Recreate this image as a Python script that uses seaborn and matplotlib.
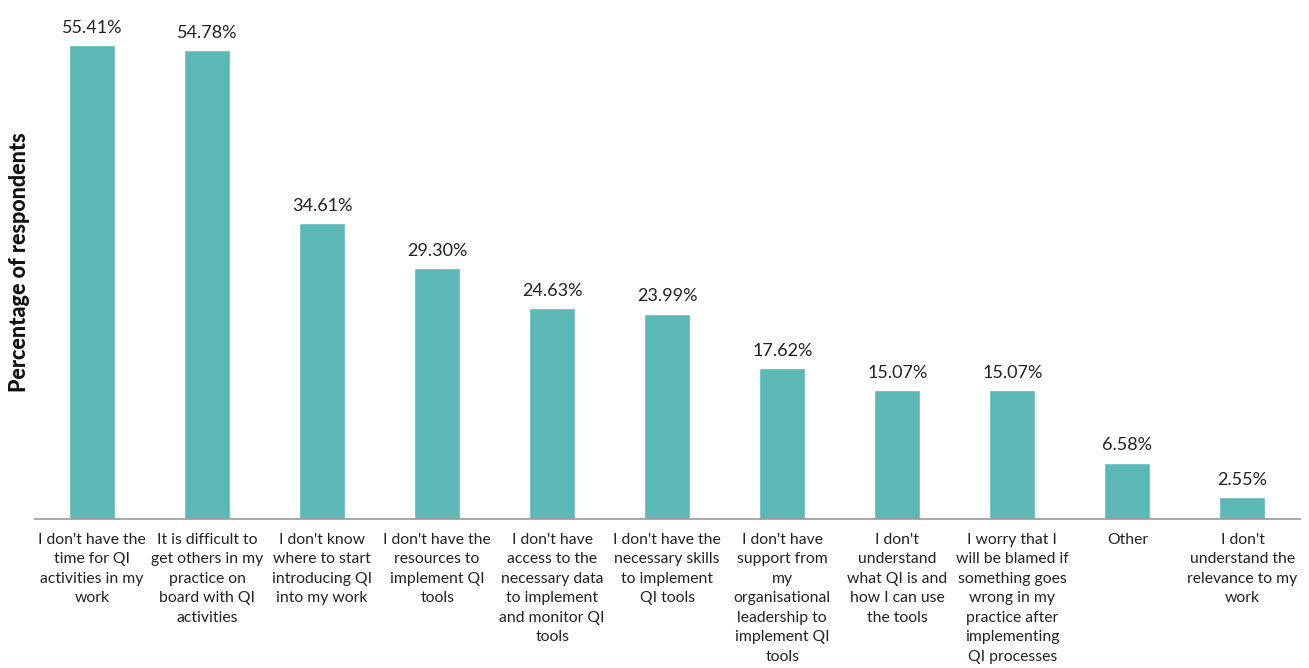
import matplotlib
matplotlib.use("Agg")
import matplotlib.pyplot as plt
import seaborn as sns
import pandas as pd

# Survey results: barriers to quality improvement (QI) activities
categories = [
    "I don't have the\ntime for QI\nactivities in my\nwork",
    "It is difficult to\nget others in my\npractice on\nboard with QI\nactivities",
    "I don't know\nwhere to start\nintroducing QI\ninto my work",
    "I don't have the\nresources to\nimplement QI\ntools",
    "I don't have\naccess to the\nnecessary data\nto implement\nand monitor QI\ntools",
    "I don't have the\nnecessary skills\nto implement\nQI tools",
    "I don't have\nsupport from\nmy\norganisational\nleadership to\nimplement QI\ntools",
    "I don't\nunderstand\nwhat QI is and\nhow I can use\nthe tools",
    "I worry that I\nwill be blamed if\nsomething goes\nwrong in my\npractice after\nimplementing\nQI processes",
    "Other",
    "I don't\nunderstand the\nrelevance to my\nwork",
]
percentages = [55.41, 54.78, 34.61, 29.30, 24.63, 23.99, 17.62, 15.07, 15.07, 6.58, 2.55]

df = pd.DataFrame({"category": categories, "pct": percentages})

sns.set_theme(style="white")
plt.rcParams["font.family"] = ["Lato", "DejaVu Sans"]

fig = plt.figure(figsize=(13.09, 6.68), dpi=100)
ax = fig.add_axes([34.5 / 1309, 1 - 519 / 668, (1300 - 34.5) / 1309, (519 - 10) / 668])

sns.barplot(data=df, x="category", y="pct", color="#5bb8b4", width=0.4,
            saturation=1, ax=ax)

ax.set_ylim(0, 59.5)
ax.set_xlim(-0.5, len(categories) - 0.5)

for i, v in enumerate(percentages):
    ax.text(i, v + 1.1, f"{v:.2f}%", ha="center", va="bottom",
            fontsize=13, color="#222222")

ax.set_xticks(range(len(categories)))
ax.set_xticklabels(categories, fontsize=11.3, color="#222222", linespacing=1.5)
ax.tick_params(axis="x", length=0, pad=10)
ax.set_yticks([])
ax.set_xlabel("")
ax.set_ylabel("Percentage of respondents", fontsize=15.5, fontweight="black",
              color="#111111")
ax.yaxis.set_label_coords(-4 / 1265.5, 0.505)

for side in ["top", "right", "left"]:
    ax.spines[side].set_visible(False)
ax.spines["bottom"].set_color("#9a9a9a")
ax.spines["bottom"].set_linewidth(1.2)

fig.savefig("out.png", dpi=100, facecolor="white")
